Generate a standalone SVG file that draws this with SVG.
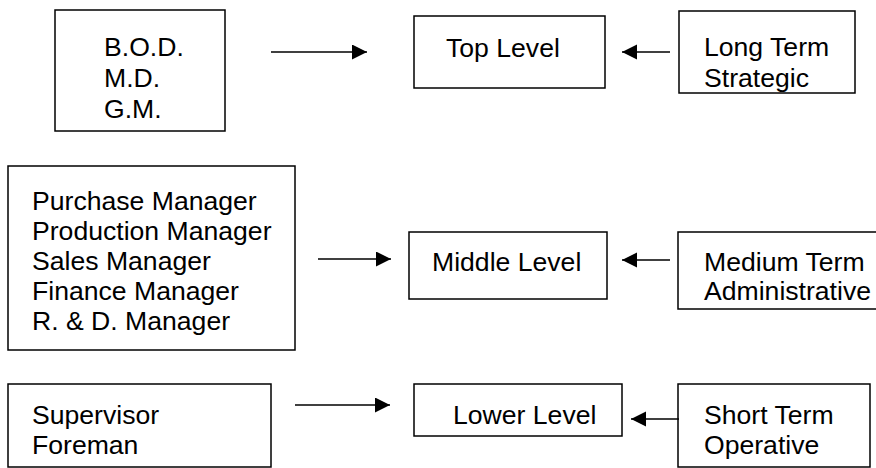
<svg xmlns="http://www.w3.org/2000/svg" width="876" height="468" viewBox="0 0 876 468">
<style>
.box{fill:#fff;stroke:#000;stroke-width:1.5}
.t{font-family:"Liberation Sans",Arial,sans-serif;font-size:26.6px;fill:#000}
.c{stroke:#000;stroke-width:1.5;fill:none;marker-end:url(#ah)}
</style>
<defs>
<marker id="ah" markerUnits="userSpaceOnUse" markerWidth="16" markerHeight="16" refX="15" refY="7.5" orient="auto">
<path d="M0,0 L15,7.5 L0,15 z" fill="#000"/>
</marker>
</defs>
<rect width="876" height="468" fill="#fff"/>
<g id="bod">
<rect class="box" x="55" y="10" width="170" height="121"/>
<text class="t" x="104" y="56">B.O.D.</text>
<text class="t" x="104" y="87">M.D.</text>
<text class="t" x="104" y="118">G.M.</text>
</g>
<g id="top-level">
<rect class="box" x="414" y="16" width="191" height="72"/>
<text class="t" x="446" y="57">Top Level</text>
</g>
<g id="long-term">
<rect class="box" x="679" y="11" width="176" height="82"/>
<text class="t" x="704" y="56">Long Term</text>
<text class="t" x="704" y="87">Strategic</text>
</g>
<g id="managers">
<rect class="box" x="8" y="166" width="287" height="184"/>
<text class="t" x="32" y="209.5">Purchase Manager</text>
<text class="t" x="32" y="239.7">Production Manager</text>
<text class="t" x="32" y="270">Sales Manager</text>
<text class="t" x="32" y="300">Finance Manager</text>
<text class="t" x="32" y="330">R. &amp; D. Manager</text>
</g>
<g id="middle-level">
<rect class="box" x="409" y="232" width="198" height="67"/>
<text class="t" x="432" y="271">Middle Level</text>
</g>
<g id="medium-term">
<rect class="box" x="678" y="232" width="220" height="77"/>
<text class="t" x="704" y="271">Medium Term</text>
<text class="t" x="704" y="300">Administrative</text>
</g>
<g id="supervisor">
<rect class="box" x="8" y="384" width="263" height="83"/>
<text class="t" x="32" y="424">Supervisor</text>
<text class="t" x="32" y="454">Foreman</text>
</g>
<g id="lower-level">
<rect class="box" x="414" y="384" width="208" height="52"/>
<text class="t" x="453" y="424">Lower Level</text>
</g>
<g id="short-term">
<rect class="box" x="678" y="384" width="192" height="83"/>
<text class="t" x="704" y="424">Short Term</text>
<text class="t" x="704" y="454">Operative</text>
</g>
<g id="connectors">
<line class="c" x1="271" y1="52" x2="367" y2="52"/>
<line class="c" x1="670" y1="52" x2="622" y2="52"/>
<line class="c" x1="318" y1="259" x2="391" y2="259"/>
<line class="c" x1="670" y1="260" x2="622" y2="260"/>
<line class="c" x1="295" y1="405" x2="390" y2="405"/>
<line class="c" x1="679" y1="419" x2="631" y2="419"/>
</g>
</svg>
